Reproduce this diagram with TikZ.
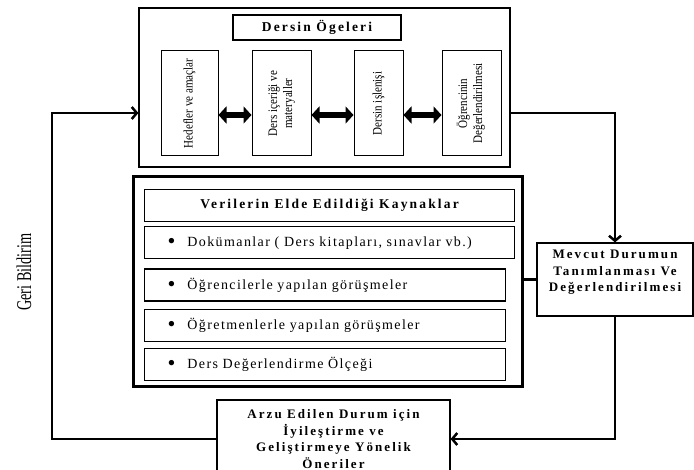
\documentclass[tikz,border=0pt]{standalone}
\usepackage{fontspec}
\usepackage{graphicx}
\setmainfont{Liberation Serif}
\newfontfamily\genisyazi[LetterSpace=10]{Liberation Serif}
\newfontfamily\kalinyazi[LetterSpace=16]{Liberation Serif}
\usetikzlibrary{arrows.meta, positioning, calc}

\newcommand{\dikyazi}[1]{\rotatebox{90}{\scalebox{0.85}[1]{\begin{tabular}{@{}c@{}}#1\end{tabular}}}}
\newcommand{\madde}[1]{\hspace*{11pt}\raisebox{-2pt}{\scalebox{1.6}{\textbullet}}\hspace{12pt}#1}

\begin{document}
\begin{tikzpicture}[x=1pt, y=-1pt,
  anabox/.style = {draw, line width=1.2pt, inner sep=0pt},
  baslikbox/.style = {draw, line width=1.2pt, inner sep=0pt, align=center, font=\kalinyazi\bfseries\fontsize{13}{16.5}\selectfont},
  dikbox/.style = {draw, line width=1pt, inner sep=0pt, minimum height=105pt, font=\fontsize{13}{15}\selectfont},
  satirbox/.style = {draw, line width=1.2pt, inner xsep=12pt, inner ysep=0pt, minimum height=32pt, align=left, font=\genisyazi\fontsize{14}{17}\selectfont},
  ciftok/.style = {line width=6pt, {Triangle[length=8pt,width=17pt]}-{Triangle[length=8pt,width=17pt]}},
  baglanti/.style = {line width=2.5pt},
  ok/.style = {baglanti, -{Straight Barb[length=5pt,width=12pt]}}
]
\useasboundingbox (0,0) rectangle (694,470);

% dersin ogeleri
\node[anabox, minimum width=371pt, minimum height=159pt] (ogeler) at (324.5,87.5) {};
\node[baslikbox, minimum width=168pt, minimum height=25pt, font=\kalinyazi\bfseries\fontsize{13.5}{16}\selectfont] (ogebaslik) at (317,27.5) {Dersin Ögeleri};
\node[dikbox, minimum width=57pt] (hedef) at (189.5,103.5) {\dikyazi{Hedefler ve amaçlar}\hspace{16pt}};
\node[dikbox, minimum width=59pt, right=33pt of hedef] (icerik) {\dikyazi{Ders içeriği ve\\ materyaller}};
\node[dikbox, minimum width=49pt, right=42pt of icerik] (islenis) {\dikyazi{Dersin işlenişi}};
\node[dikbox, minimum width=59pt, right=38pt of islenis] (degerlendirme) {\dikyazi{Öğrencinin\\ Değerlendirilmesi}};
\draw[ciftok] ([yshift=-11.5pt]hedef.east) -- ([yshift=-11.5pt]icerik.west);
\draw[ciftok] ([yshift=-11.5pt]icerik.east) -- ([yshift=-11.5pt]islenis.west);
\draw[ciftok] ([yshift=-11.5pt]islenis.east) -- ([yshift=-11.5pt]degerlendirme.west);

% veri kaynaklari
\node[draw, line width=3pt, minimum width=389pt, minimum height=210pt] (kaynak) at (327.5,282) {};
\node[baslikbox, minimum width=370pt, minimum height=32pt, anchor=north west, font=\kalinyazi\bfseries\fontsize{13.5}{16}\selectfont] (kaynakbaslik) at (144,189) {Verilerin Elde Edildiği Kaynaklar};
\node[satirbox, text width=346pt, below=4pt of kaynakbaslik.south west, anchor=north west] (dokuman) {\madde{Dokümanlar ( Ders kitapları, sınavlar vb.)}};
\node[satirbox, text width=337pt, below=9pt of dokuman.south west, anchor=north west] (ogrenci) {\madde{Öğrencilerle yapılan görüşmeler}};
\node[satirbox, text width=337pt, below=7pt of ogrenci.south west, anchor=north west] (ogretmen) {\madde{Öğretmenlerle yapılan görüşmeler}};
\node[satirbox, text width=337pt, below=6pt of ogretmen.south west, anchor=north west] (olcek) {\madde{Ders Değerlendirme Ölçeği}};

% mevcut durum ve oneriler
\node[baslikbox, minimum width=156pt, minimum height=73pt] (mevcut) at (615,279.5) {\parbox[c][65pt][t]{150pt}{\centering\vspace*{3pt} Mevcut Durumun\\ Tanımlanması Ve\\ Değerlendirilmesi}};
\node[baslikbox, minimum width=233pt, minimum height=78pt] (arzu) at (333.5,439) {Arzu Edilen Durum için\\ İyileştirme ve\\ Geliştirmeye Yönelik\\ Öneriler};
\node[font=\fontsize{21}{24}\selectfont, inner sep=0pt] (geri) at (24,272) {\rotatebox{90}{\scalebox{0.68}[1]{Geri Bildirim}}};

\coordinate (donus) at (52,113);
\draw[ok] ([yshift=-25.5pt]ogeler.east) -| (mevcut.north);
\draw[baglanti] (kaynak.east |- mevcut.west) -- (mevcut.west);
\draw[ok] (mevcut.south) |- (arzu.east);
\draw[ok] (arzu.west) -| (donus) -- (donus -| ogeler.west);
\end{tikzpicture}
\end{document}
